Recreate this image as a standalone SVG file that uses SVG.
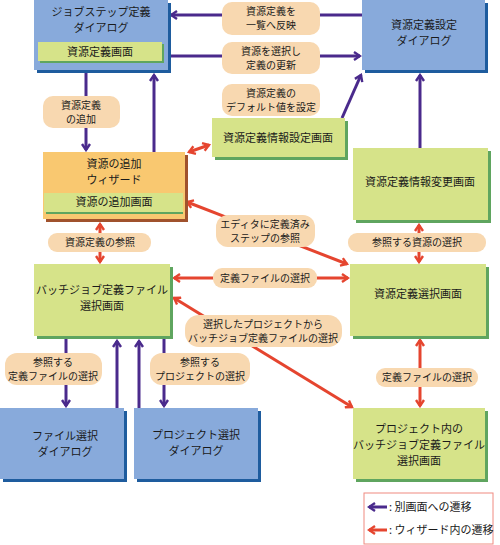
<svg xmlns="http://www.w3.org/2000/svg" width="500" height="545" viewBox="0 0 500 545">
<style>
text{font-family:"Noto Sans CJK JP","Noto Sans CJK SC",sans-serif;fill:#1a1a1a;text-anchor:middle}
.t{font-size:11px}
.l{font-size:10px}
.blue{fill:#88AADB}
.blueS{fill:#1E5C9E}
.green{fill:#D6E389}
.greenS{fill:#5FA55F}
.orange{fill:#F9C870}
.orangeS{fill:#A0522D}
.lab{fill:#F8D8B0}
.p{stroke:#4A2A8C;stroke-width:3;fill:none;marker-end:url(#ap)}
.r{stroke:#E5452F;stroke-width:3;fill:none;marker-end:url(#ar);marker-start:url(#ar)}
</style>
<defs>
<marker id="ap" viewBox="0 0 10 10" refX="8" refY="5" markerWidth="10" markerHeight="10" markerUnits="userSpaceOnUse" orient="auto-start-reverse"><path d="M2,1 L8,5 L2,9" fill="none" stroke="#4A2A8C" stroke-width="2.4"/></marker>
<marker id="ar" viewBox="0 0 10 10" refX="8" refY="5" markerWidth="10" markerHeight="10" markerUnits="userSpaceOnUse" orient="auto-start-reverse"><path d="M2,1 L8,5 L2,9" fill="none" stroke="#E5452F" stroke-width="2.4"/></marker>
</defs>
<rect width="500" height="545" fill="#fff"/>
<g id="connectors">
<path class="p" d="M362,15 L171,15"/>
<path class="p" d="M170,56 L360,56"/>
<path class="p" d="M342,118 L361,75"/>
<path class="p" d="M420,148 L420,75"/>
<path class="p" d="M86,73 L86,150"/>
<path class="p" d="M154,152 L154,75"/>
<path class="r" d="M189,152 L209,145"/>
<path class="r" d="M187,202 L347,264"/>
<path class="r" d="M100,224 L100,262"/>
<path class="r" d="M419,225 L419,262"/>
<path class="r" d="M174,278 L348,278"/>
<path class="r" d="M174,298 L352,407"/>
<path class="r" d="M420,340 L420,406"/>
<path class="p" d="M66,339 L66,406"/>
<path class="p" d="M117,408 L117,341"/>
<path class="p" d="M139,408 L139,341"/>
<path class="p" d="M164,339 L164,406"/>
<g id="labels">
<rect class="lab" x="222" y="2" width="98" height="33" rx="10"/>
<text class="l" x="271" y="15">資源定義を</text><text class="l" x="271" y="29">一覧へ反映</text>
<rect class="lab" x="222" y="42" width="98" height="32" rx="10"/>
<text class="l" x="271" y="55">資源を選択し</text><text class="l" x="271" y="69">定義の更新</text>
<rect class="lab" x="222" y="84" width="98" height="32" rx="10"/>
<text class="l" x="271" y="97">資源定義の</text><text class="l" x="271" y="111">デフォルト値を設定</text>
<rect class="lab" x="43" y="96" width="77" height="32" rx="10"/>
<text class="l" x="81" y="109">資源定義</text><text class="l" x="81" y="123">の追加</text>
<rect class="lab" x="48" y="233" width="103" height="19" rx="9"/>
<text class="l" x="100" y="246">資源定義の参照</text>
<rect class="lab" x="216" y="215" width="99" height="32" rx="12"/>
<text class="l" x="265" y="228">エディタに定義済み</text><text class="l" x="265" y="242">ステップの参照</text>
<rect class="lab" x="348" y="233" width="138" height="19" rx="9"/>
<text class="l" x="417" y="246">参照する資源の選択</text>
<rect class="lab" x="213" y="268" width="104" height="20" rx="9"/>
<text class="l" x="265" y="282">定義ファイルの選択</text>
<rect class="lab" x="185" y="315" width="157" height="32" rx="14"/>
<text class="l" x="263" y="328">選択したプロジェクトから</text><text class="l" x="263" y="342">バッチジョブ定義ファイルの選択</text>
<rect class="lab" x="376" y="368" width="102" height="19" rx="9"/>
<text class="l" x="427" y="381">定義ファイルの選択</text>
<rect class="lab" x="5" y="353" width="97" height="32" rx="12"/>
<text class="l" x="53" y="366">参照する</text><text class="l" x="53" y="380">定義ファイルの選択</text>
<rect class="lab" x="150" y="353" width="100" height="32" rx="12"/>
<text class="l" x="200" y="366">参照する</text><text class="l" x="200" y="380">プロジェクトの選択</text>
</g>
</g>
<g id="jobstep-dialog">
<rect class="blueS" x="37" y="3" width="134" height="70"/>
<rect class="blue" x="34" y="0" width="134" height="70"/>
<text class="t" x="101" y="16">ジョブステップ定義</text><text class="t" x="101" y="32">ダイアログ</text>
<rect class="greenS" x="40" y="44" width="124" height="19"/>
<rect class="green" x="38" y="42" width="124" height="19"/>
<text class="t" x="100" y="56">資源定義画面</text>
</g>
<g id="resource-setting-dialog">
<rect class="blueS" x="365" y="3" width="123" height="70"/>
<rect class="blue" x="362" y="0" width="123" height="70"/>
<text class="t" x="424" y="29">資源定義設定</text><text class="t" x="424" y="45">ダイアログ</text>
</g>
<g id="info-setting-screen">
<rect class="greenS" x="215" y="121" width="133" height="39"/>
<rect class="green" x="212" y="118" width="133" height="39"/>
<text class="t" x="278" y="142">資源定義情報設定画面</text>
</g>
<g id="info-change-screen">
<rect class="greenS" x="356" y="151" width="135" height="72"/>
<rect class="green" x="353" y="148" width="135" height="72"/>
<text class="t" x="420" y="186">資源定義情報変更画面</text>
</g>
<g id="add-wizard">
<rect class="orangeS" x="46" y="155" width="142" height="67"/>
<rect class="orange" x="43" y="152" width="142" height="67"/>
<text class="t" x="114" y="168">資源の追加</text><text class="t" x="114" y="184">ウィザード</text>
<rect class="greenS" x="46" y="195" width="137" height="19"/>
<rect class="green" x="44" y="193" width="139" height="19"/>
<text class="t" x="114" y="206">資源の追加画面</text>
</g>
<g id="batch-select-screen">
<rect class="greenS" x="37" y="267" width="136" height="72"/>
<rect class="green" x="34" y="264" width="136" height="72"/>
<text class="t" x="102" y="294">バッチジョブ定義ファイル</text><text class="t" x="102" y="310">選択画面</text>
</g>
<g id="resource-select-screen">
<rect class="greenS" x="353" y="267" width="136" height="72"/>
<rect class="green" x="350" y="264" width="136" height="72"/>
<text class="t" x="418" y="298">資源定義選択画面</text>
</g>
<g id="project-batch-screen">
<rect class="greenS" x="356" y="411" width="132" height="71"/>
<rect class="green" x="353" y="408" width="132" height="71"/>
<text class="t" x="419" y="433">プロジェクト内の</text><text class="t" x="419" y="449">バッチジョブ定義ファイル</text><text class="t" x="419" y="465">選択画面</text>
</g>
<g id="file-dialog">
<rect class="blueS" x="3" y="411" width="124" height="71"/>
<rect class="blue" x="0" y="408" width="124" height="71"/>
<text class="t" x="65" y="440">ファイル選択</text><text class="t" x="65" y="456">ダイアログ</text>
</g>
<g id="project-dialog">
<rect class="blueS" x="137" y="411" width="124" height="71"/>
<rect class="blue" x="134" y="408" width="124" height="71"/>
<text class="t" x="196" y="439">プロジェクト選択</text><text class="t" x="196" y="455">ダイアログ</text>
</g>
<g id="legend">
<rect x="364" y="493" width="129" height="51" fill="#fff" stroke="#F08A80" stroke-width="1"/>
<path d="M387,507 L369,507" stroke="#4A2A8C" stroke-width="3" fill="none" marker-end="url(#ap)"/>
<text class="t" x="389" y="511" style="text-anchor:start">: 別画面への遷移</text>
<path d="M387,530 L369,530" stroke="#E5452F" stroke-width="3" fill="none" marker-end="url(#ar)"/>
<text class="t" x="389" y="534" style="text-anchor:start">: ウィザード内の遷移</text>
</g>
</svg>
